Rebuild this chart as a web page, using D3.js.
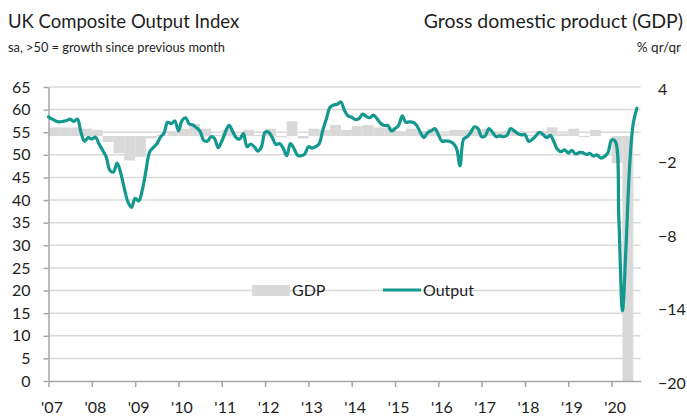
<!DOCTYPE html>
<html><head><meta charset="utf-8">
<script src="https://cdn.jsdelivr.net/npm/d3@7"></script>
<style>
html,body{margin:0;padding:0;background:#fff;}
svg{display:block;font-family:Lato,"Open Sans",sans-serif;}
</style></head><body>
<svg id="c" width="687" height="417"></svg>
<script>
// ---- data ----
const yearLabels = ["'07","'08","'09","'10","'11","'12","'13","'14","'15","'16","'17","'18","'19","'20"];
// UK Composite Output Index, monthly Jan 2007 – Aug 2020
const pmiValues = [
 58.4,57.9,57.5,57.3,57.4,57.6,57.9,57.4,57.9,55.0,53.0,53.8,   // 2007
 53.5,53.9,52.4,51.0,49.5,46.6,46.2,48.2,46.0,42.6,39.6,38.4,   // 2008
 40.4,39.8,42.3,46.5,50.6,51.6,52.4,53.9,54.8,57.2,56.9,57.5,   // 2009
 55.3,57.6,58.2,56.8,56.6,56.0,55.2,53.2,53.0,54.0,53.6,51.6,   // 2010
 53.0,55.0,56.5,55.2,53.8,53.5,54.7,51.8,52.4,51.8,50.8,51.8,   // 2011
 55.0,55.0,53.8,52.3,52.5,51.5,49.8,52.5,51.4,49.9,49.8,50.2,   // 2012
 51.8,51.5,51.8,52.5,55.5,58.0,60.5,61.0,61.2,61.7,59.8,58.6,   // 2013
 58.3,57.8,58.0,59.0,58.5,58.2,58.8,58.0,57.0,56.5,56.5,55.3,   // 2014
 55.8,56.5,58.6,57.2,57.3,57.2,56.5,55.0,53.8,54.9,55.3,55.8,   // 2015
 54.5,53.0,53.1,53.0,52.6,51.5,47.6,53.5,54.0,55.0,56.2,55.8,   // 2016
 54.0,54.2,55.8,55.0,54.0,54.2,54.0,54.3,55.8,55.3,54.7,54.4,   // 2017
 54.5,53.0,53.4,54.2,55.0,54.5,53.8,54.3,52.9,51.2,50.7,51.1,   // 2018
 50.4,51.0,50.2,50.5,50.5,50.1,50.3,49.7,50.0,49.3,49.6,50.5,   // 2019
 53.3,53.0,36.0,15.5,30.0,47.7,57.0,60.3                        // 2020
];
// GDP % q/q, quarterly 2007 Q1 – 2020 Q2
const gdpValues = [
 0.7,0.7,0.7,0.6,  0.5,-0.5,-1.4,-2.0,  -1.7,-0.2,0.1,0.4,
 0.6,1.0,0.6,0.1,  0.5,0.1,0.5,0.1,  0.6,-0.1,1.2,-0.2,
 0.6,0.5,0.9,0.5,  0.8,0.9,0.7,0.7,  0.4,0.6,0.4,0.6,
 0.2,0.5,0.5,0.6,  0.6,0.3,0.4,0.4,  0.1,0.4,0.7,0.2,
 0.6,-0.1,0.5,0.0,  -2.2,-20.4
];
const leftTicks = [0,5,10,15,20,25,30,35,40,45,50,55,60,65];
const rightTicks = [4,-2,-8,-14,-20];
const seriesNames = ["GDP","Output"];

// ---- drawing ----
const svg = d3.select("#c");
const teal = "#12988f", barGrey = "#d9d9d9", gridGrey = "#d9d9d9", axisGrey = "#a6a6a6", txt = "#1e1e1e";
const nMonths = 164;
const x = d3.scaleLinear().domain([0, nMonths]).range([48.5, 640.5]);
const yL = d3.scaleLinear().domain([0, 65]).range([381, 87]);
const yR = d3.scaleLinear().domain([-20, 4]).range([381, 87]).clamp(true);

// gridlines
svg.append("g").selectAll("line").data(leftTicks.filter(d => d > 0)).join("line")
  .attr("x1", x(0)).attr("x2", x(nMonths))
  .attr("y1", d => yL(d)).attr("y2", d => yL(d))
  .attr("stroke", gridGrey).attr("stroke-width", 1.5);

// GDP bars
svg.append("g").selectAll("rect").data(gdpValues).join("rect")
  .attr("x", (d, i) => x(i * 3))
  .attr("width", (d, i) => x(i * 3 + 3) - x(i * 3))
  .attr("y", d => Math.min(yR(0), yR(d)))
  .attr("height", d => Math.abs(yR(d) - yR(0)))
  .attr("fill", barGrey);

// left axis
const gL = svg.append("g").attr("transform", `translate(${x(0)},0)`)
  .call(d3.axisLeft(yL).tickValues(leftTicks).tickSize(5).tickSizeOuter(0).tickPadding(13));
gL.select(".domain").attr("stroke", axisGrey).attr("stroke-width", 1.5);
gL.selectAll(".tick line").attr("stroke", axisGrey).attr("stroke-width", 1.5);
gL.selectAll(".tick text").attr("fill", txt).style("font-size", "16px").style("font-family", "Lato");

// bottom axis
const gB = svg.append("g").attr("transform", `translate(0,${yL(0)})`)
  .call(d3.axisBottom(x).tickValues(yearLabels.map((d, i) => i * 12)).tickSize(6).tickSizeOuter(0)
    .tickFormat((d, i) => yearLabels[i]));
gB.select(".domain").attr("stroke", axisGrey).attr("stroke-width", 1.5);
gB.selectAll(".tick line").attr("stroke", axisGrey).attr("stroke-width", 1.5);
gB.selectAll(".tick text").attr("fill", txt).style("font-size", "16px").style("font-family", "Lato")
  .attr("y", 32).attr("dy", 0).attr("dx", 3);

// right axis (labels only)
const gR = svg.append("g").attr("transform", "translate(658,0)")
  .call(d3.axisRight(yR).tickValues(rightTicks).tickSize(0).tickPadding(0));
gR.select(".domain").remove();
gR.selectAll(".tick text").attr("fill", txt).style("font-size", "16px").style("font-family", "Lato").attr("dy", "0.45em");

// output line
svg.append("path").datum(pmiValues)
  .attr("d", d3.line().x((d, i) => x(i)).y(d => yL(d)).curve(d3.curveCatmullRom.alpha(0.5)))
  .attr("fill", "none").attr("stroke", teal).attr("stroke-width", 3.2)
  .attr("stroke-linejoin", "round").attr("stroke-linecap", "round");

// titles
svg.append("text").attr("x", 8).attr("y", 28).text("UK Composite Output Index")
  .attr("fill", txt).style("font-size", "18.5px");
svg.append("text").attr("x", 8).attr("y", 52).text("sa, >50 = growth since previous month")
  .attr("fill", txt).style("font-size", "12.8px");
svg.append("text").attr("x", 683).attr("y", 28).attr("text-anchor", "end").text("Gross domestic product (GDP)")
  .attr("fill", txt).style("font-size", "19.5px");
svg.append("text").attr("x", 681).attr("y", 52).attr("text-anchor", "end").text("% qr/qr")
  .attr("fill", txt).style("font-size", "13.5px");

// legend
const lg = svg.append("g");
lg.append("rect").attr("x", 252).attr("y", 285).attr("width", 38).attr("height", 11).attr("fill", barGrey);
lg.append("text").attr("x", 292).attr("y", 296).text(seriesNames[0]).attr("fill", txt).style("font-size", "16px");
lg.append("line").attr("x1", 383).attr("x2", 421).attr("y1", 290).attr("y2", 290)
  .attr("stroke", teal).attr("stroke-width", 3);
lg.append("text").attr("x", 423).attr("y", 296).text(seriesNames[1]).attr("fill", txt).style("font-size", "16px");
</script>
</body></html>
